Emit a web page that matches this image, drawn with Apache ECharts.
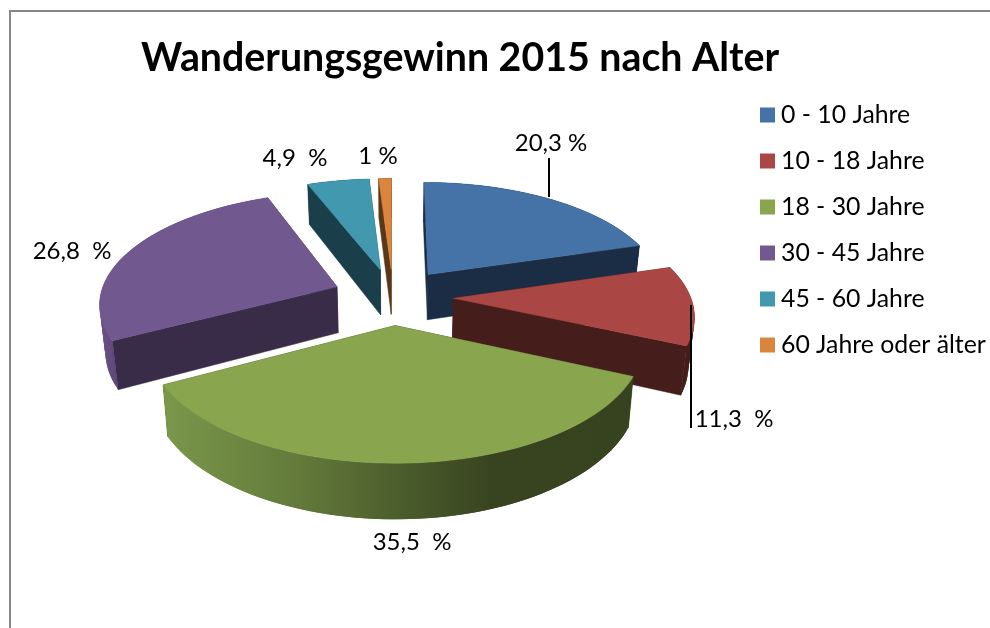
<!DOCTYPE html>
<html>
<head>
<meta charset="utf-8">
<title>Wanderungsgewinn 2015 nach Alter</title>
<style>
html, body { margin: 0; padding: 0; background: #fff; }
#chart-panel { width: 990px; height: 628px; }
</style>
<script src="https://cdn.jsdelivr.net/npm/echarts@6/dist/echarts.min.js"></script>
</head>
<body>
<div id="chart-panel"></div>
<script>
var categories = ['0 - 10 Jahre', '10 - 18 Jahre', '18 - 30 Jahre', '30 - 45 Jahre', '45 - 60 Jahre', '60 Jahre oder älter'];
var shares = [20.3, 11.3, 35.5, 26.8, 4.9, 1];
var labelTexts = ['20,3 %', '11,3  %', '35,5  %', '26,8  %', '4,9  %', '1 %'];

var topColors = ['#4572a7', '#aa4643', '#89a54e', '#71588f', '#4198af', '#db843d'];
var wallColors = ['#1b2d45', '#451e1b', '#37421e', '#392c48', '#1a3f4a', '#5a3716'];
var labelPos = [[551, 143], [734, 419], [412, 542], [72, 251], [295, 158], [378, 156]];
var leaders = [[[549, 158], [549, 197]], [[691, 305], [691, 428]]];
var drawOrder = [3, 4, 5, 0, 1, 2];

// pie projection, fitted to the picture
var CX = 393, CY = 296.5, R = 237;
var TILT = 0.465, PERSP = 0.136, EXPLODE = 0.255;
var DEPTH = 46.5, SHRINK = 0.98;

var total = shares.reduce(function (a, b) { return a + b; }, 0);
var cumul = [];
shares.reduce(function (acc, v, i) {
    cumul[i] = acc;
    return acc + v;
}, 0);

function project(u, f, low) {
    var k = 1 / (1 - PERSP * f);
    var x = R * u * k;
    var y = R * TILT * f * k;
    if (low) {
        x *= SHRINK;
        y += DEPTH * k;
    }
    return [CX + x, CY + y];
}

function outerFill(idx) {
    if (idx === 2) {
        return new echarts.graphic.LinearGradient(164, 0, 632, 0, [
            { offset: 0, color: '#7a974a' },
            { offset: 0.28, color: '#647b3b' },
            { offset: 0.52, color: '#4a5b2b' },
            { offset: 0.7, color: '#384420' },
            { offset: 1, color: '#37421e' }
        ], true);
    }
    if (idx === 3) {
        return new echarts.graphic.LinearGradient(98, 0, 122, 0, [
            { offset: 0, color: '#6d5389' },
            { offset: 1, color: '#5a4474' }
        ], true);
    }
    return wallColors[idx];
}

function sliceItem(idx) {
    return function (params, api) {
        var value = api.value(0);
        var start = cumul[idx] / total * Math.PI * 2;
        var end = start + value / total * Math.PI * 2;
        var mid = (start + end) / 2;
        var ex = EXPLODE * Math.sin(mid);
        var ey = -EXPLODE * Math.cos(mid);

        function pt(angle, r, low) {
            return project(r * Math.sin(angle) + ex, -r * Math.cos(angle) + ey, low);
        }

        function poly(points, fill, noStroke) {
            return {
                type: 'polygon',
                silent: true,
                shape: { points: points },
                style: { fill: fill, stroke: noStroke ? null : fill, lineWidth: 0.5 }
            };
        }

        var steps = Math.max(2, Math.ceil((end - start) / 0.03));
        var arcHigh = [], arcLow = [];
        for (var i = 0; i <= steps; i++) {
            var a = start + (end - start) * i / steps;
            arcHigh.push(pt(a, 1, false));
            arcLow.push(pt(a, 1, true));
        }
        var apexHigh = pt(0, 0, false);
        var apexLow = pt(0, 0, true);

        // outer wall as overlapping strips, so no seams show between them
        var outer = [];
        var fill = outerFill(idx);
        for (var j = 0; j < steps; j++) {
            var next = Math.min(j + 2, steps);
            outer.push(poly([arcHigh[j], arcHigh[next], arcLow[next], arcLow[j]], fill, true));
        }
        var cuts = [
            poly([apexHigh, arcHigh[0], arcLow[0], apexLow], wallColors[idx]),
            poly([apexHigh, arcHigh[steps], arcLow[steps], apexLow], wallColors[idx])
        ];
        // the front slice shows its rim, the others show their cut faces in front
        var walls = Math.cos(mid) < -0.9 ? cuts.concat(outer) : outer.concat(cuts);

        return {
            type: 'group',
            children: walls.concat([poly([apexHigh].concat(arcHigh), topColors[idx])])
        };
    };
}

var myChart = echarts.init(document.getElementById('chart-panel'), null, { renderer: 'canvas' });

var series = drawOrder.map(function (idx) {
    return {
        name: categories[idx],
        type: 'custom',
        coordinateSystem: 'none',
        silent: true,
        animation: false,
        itemStyle: { color: topColors[idx] },
        renderItem: sliceItem(idx),
        data: [[shares[idx]]]
    };
});

var graphics = [{
    type: 'polyline',
    silent: true,
    shape: { points: [[10, 628], [10, 11], [990, 11]] },
    style: { stroke: '#868686', lineWidth: 2, fill: null }
}];
leaders.forEach(function (line) {
    graphics.push({
        type: 'line',
        silent: true,
        z: 100,
        shape: { x1: line[0][0], y1: line[0][1], x2: line[1][0], y2: line[1][1] },
        style: { stroke: '#000', lineWidth: 2 }
    });
});
labelTexts.forEach(function (text, i) {
    graphics.push({
        type: 'text',
        silent: true,
        z: 100,
        x: labelPos[i][0],
        y: labelPos[i][1],
        style: {
            text: text,
            fill: '#000',
            font: '24px Lato',
            align: 'center',
            verticalAlign: 'middle'
        }
    });
});

myChart.setOption({
    backgroundColor: '#fff',
    animation: false,
    title: {
        text: 'Wanderungsgewinn 2015 nach Alter',
        left: 141,
        top: 39,
        padding: 0,
        textStyle: { color: '#000', fontFamily: 'Lato', fontWeight: 'bold', fontSize: 39.3 }
    },
    legend: {
        orient: 'vertical',
        left: 760,
        top: 100,
        padding: 0,
        itemWidth: 15,
        itemHeight: 15,
        itemGap: 16,
        selectedMode: false,
        icon: 'rect',
        data: categories,
        textStyle: { color: '#000', fontFamily: 'Lato', fontSize: 24.8, lineHeight: 30, padding: [0, 0, 0, 1] }
    },
    graphic: graphics,
    series: series
});
</script>
</body>
</html>
